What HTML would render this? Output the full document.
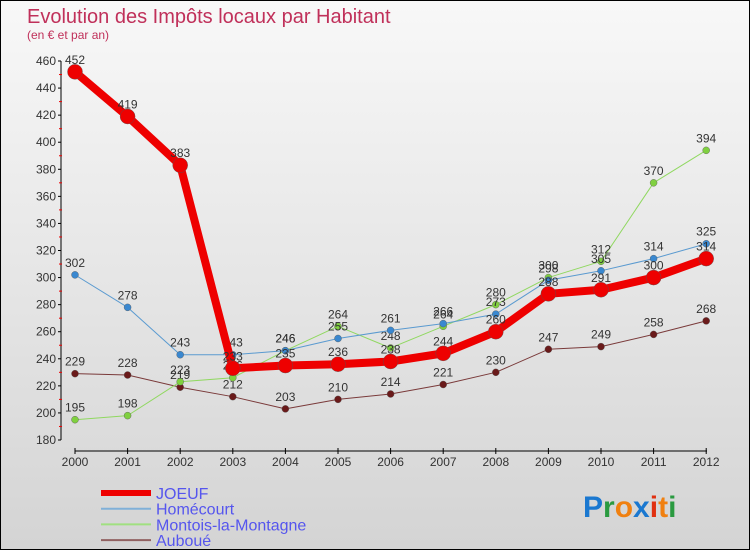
<!DOCTYPE html>
<html><head><meta charset="utf-8">
<style>
html,body{margin:0;padding:0}
body{width:750px;height:550px;overflow:hidden;font-family:"Liberation Sans",sans-serif}
#wrap{position:relative;width:748px;height:548px;border:1px solid #000;background:linear-gradient(#f8f8f8,#d4d4d4)}
</style></head>
<body>
<div id="wrap">
<svg id="chart" width="748" height="548">
<text x="26" y="22" font-size="20" fill="#c0305a">Evolution des Impôts locaux par Habitant</text>
<text x="26" y="38" font-size="12" fill="#c0305a">(en € et par an)</text>
<text x="582" y="516" font-size="30" font-weight="bold"><tspan fill="#1a78d0">P</tspan><tspan fill="#2a9a40">r</tspan><tspan fill="#f08010">o</tspan><tspan fill="#1a78d0">x</tspan><tspan fill="#e03010">i</tspan><tspan fill="#f08010">t</tspan><tspan fill="#2a9a40">i</tspan></text>
</svg>
</div>
<script>
const years=[2000,2001,2002,2003,2004,2005,2006,2007,2008,2009,2010,2011,2012];
const joeuf=[452,419,383,233,235,236,238,244,260,288,291,300,314];
const homecourt=[302,278,243,243,246,255,261,266,273,298,305,314,325];
const montois=[195,198,223,226,246,264,248,264,280,300,312,370,394];
const auboue=[229,228,219,212,203,210,214,221,230,247,249,258,268];
const yTicks=[180,200,220,240,260,280,300,320,340,360,380,400,420,440,460];
const NS="http://www.w3.org/2000/svg";
const svg=document.getElementById('chart');
const X=i=>74+i*52.6;
const Y=v=>439-(v-180)*(379/280);
function mk(t,a,p){const e=document.createElementNS(NS,t);for(const k in a)e.setAttribute(k,a[k]);(p||svg).appendChild(e);return e;}
const ax=mk('g',{});


mk('line',{x1:60,y1:Y(460),x2:60,y2:Y(180),stroke:'#000','stroke-width':1},ax);
mk('line',{x1:74,y1:450,x2:706,y2:450,stroke:'#000','stroke-width':1},ax);
yTicks.forEach(v=>{
 mk('line',{x1:57,y1:Y(v),x2:60,y2:Y(v),stroke:'#000'},ax);
 if(v<460) mk('line',{x1:58,y1:Y(v+10),x2:61,y2:Y(v+10),stroke:'#e00'},ax);
 const t=mk('text',{x:55,y:Y(v)+4,'text-anchor':'end','font-size':12,fill:'#333'},ax);
 
 
 t.textContent=v;
});
years.forEach((yr,i)=>{
 mk('line',{x1:X(i),y1:447,x2:X(i),y2:453,stroke:'#000'},ax);
 const t=mk('text',{x:X(i),y:465,'text-anchor':'middle','font-size':12,fill:'#333'},ax);
 
 
 t.textContent=yr;
});
function series(data,color,w,r,name,dot){
 const g=mk('g',{});
 
 
 mk('polyline',{points:data.map((v,i)=>X(i)+','+Y(v)).join(' '),fill:'none',stroke:color,'stroke-width':w,'stroke-linejoin':'round'},g);
 data.forEach((v,i)=>{
  const c=mk('circle',{cx:X(i),cy:Y(v),r:r,fill:dot,stroke:'#555','stroke-width':0.4},g);
  
  
  const t=mk('text',{x:X(i),y:Y(v)-8,'text-anchor':'middle','font-size':12,fill:'#333'},g);
  
  
  t.textContent=v;
 });
}
series(auboue,'#7a3a3a',1,3.5,'auboue-series','#6a1a1a');
series(montois,'#90d860',1,3.5,'montois-series','#80d040');
series(homecourt,'#5a9ad0',1,3.5,'homecourt-series','#3a88d0');
series(joeuf,'#ee0000',8,7.5,'joeuf-series','#ee0000');
const leg=[['JOEUF','#ee0000',6],['Homécourt','#80b0d8',2],['Montois-la-Montagne','#a0e080',2],['Auboué','#906060',2]];
leg.forEach((l,i)=>{
 const g=mk('g',{});
 
 
 const y=492+i*15.7;
 mk('line',{x1:100,y1:y,x2:150,y2:y,stroke:l[1],'stroke-width':l[2]},g);
 const t=mk('text',{x:155,y:y+6,'font-size':16,fill:'#5555ee'},g);
 t.textContent=l[0];
});
</script>
</body></html>
